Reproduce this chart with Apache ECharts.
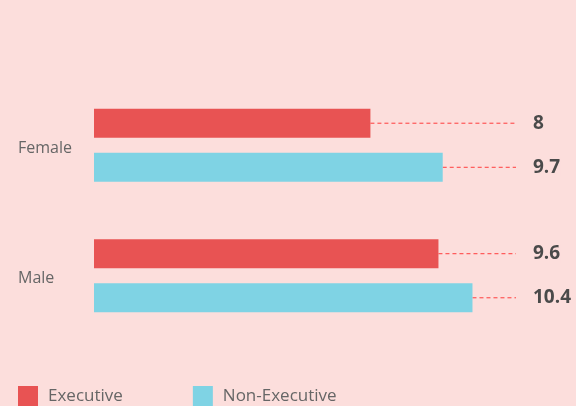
<!DOCTYPE html>
<html>
<head>
<meta charset="utf-8">
<script src="https://cdn.jsdelivr.net/npm/echarts@6/dist/echarts.min.js"></script>
<style>
  html, body { margin: 0; padding: 0; background: #fcdedc; }
  #main { width: 576px; height: 406px; }
</style>
</head>
<body>
<div id="main"></div>
<script>
// data
var categories = ['Female', 'Male'];
var seriesNames = ['Executive', 'Non-Executive'];
var executive = [8, 9.6];
var nonExecutive = [9.7, 10.4];
var colors = ['#e85353', '#7fd3e4'];

var myChart = echarts.init(document.getElementById('main'));

function makeSeries(name, data, color) {
  return {
    name: name,
    type: 'bar',
    data: data,
    barWidth: 29,
    barGap: '52%',
    itemStyle: { color: color },
    label: {
      show: true,
      position: 'right',
      formatter: '{c}',
      color: '#4a4a4a',
      fontSize: 19,
      fontWeight: 'bold',
      fontFamily: 'Open Sans',
      padding: [0, 0, 0, 17],
      backgroundColor: '#fcdedc'
    },
    // put all value labels in one column, guide line runs from bar end
    labelLayout: function (params) {
      return {
        x: 516,
        y: params.rect.y + params.rect.height / 2,
        align: 'left',
        verticalAlign: 'middle'
      };
    },
    labelLine: {
      show: true,
      lineStyle: { color: '#ff3c3c', type: [4, 3], width: 1, opacity: 1 }
    }
  };
}

var option = {
  backgroundColor: '#fcdedc',
  animation: false,
  color: colors,
  grid: { left: 94, right: 61, top: 80, bottom: 65 },
  legend: {
    data: seriesNames,
    left: 18,
    top: 386,
    padding: 0,
    icon: 'rect',
    itemWidth: 20,
    itemHeight: 20,
    itemGap: 70,
    textStyle: {
      color: '#666',
      fontSize: 17,
      fontFamily: 'Open Sans',
      padding: [0, 0, 0, 5]
    }
  },
  xAxis: {
    type: 'value',
    min: 1.5,
    max: 11.4,
    axisLine: { show: false },
    axisTick: { show: false },
    axisLabel: { show: false },
    splitLine: { show: false }
  },
  yAxis: {
    type: 'category',
    data: categories,
    inverse: true,
    axisLine: { show: false },
    axisTick: { show: false },
    axisLabel: {
      align: 'left',
      margin: 76,
      color: '#666',
      fontSize: 16,
      fontFamily: 'Open Sans',
      formatter: '{a|{value}}',
      rich: {
        a: { color: '#666', fontSize: 16, fontFamily: 'Open Sans', padding: [6, 0, 0, 0] }
      }
    }
  },
  series: [
    makeSeries(seriesNames[0], executive, colors[0]),
    makeSeries(seriesNames[1], nonExecutive, colors[1])
  ]
};
myChart.setOption(option);
</script>
</body>
</html>
